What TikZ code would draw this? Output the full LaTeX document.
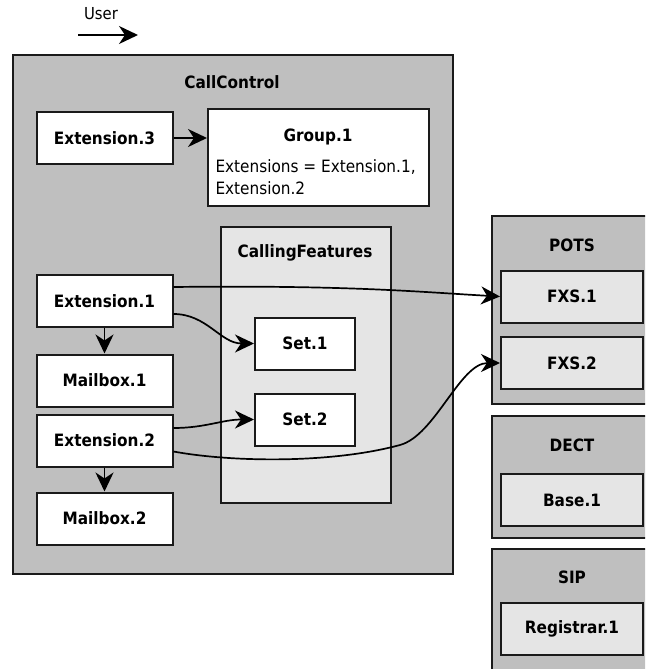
\documentclass[tikz,border=0pt]{standalone}
\usepackage{fontspec}
\setmainfont{DejaVu Sans Condensed}
\usetikzlibrary{arrows.meta}
\definecolor{panelgray}{HTML}{BFBFBF}
\definecolor{lightgray}{HTML}{E5E5E5}
\definecolor{edgegray}{HTML}{1A1A1A}
\begin{document}
\begin{tikzpicture}[x=1pt,y=-1pt,
  panel/.style={draw=edgegray, fill=panelgray, line width=2pt, anchor=north west, inner sep=0pt},
  subpanel/.style={draw=edgegray, fill=lightgray, line width=2pt, anchor=north west, inner sep=0pt},
  title/.style={font=\fontsize{17}{19}\selectfont\bfseries},
  box/.style={draw=edgegray, fill=white, line width=2pt, inner sep=0pt,
    minimum width=136pt, minimum height=52pt, font=\fontsize{17}{19}\selectfont\bfseries},
  lbox/.style={box, fill=lightgray, minimum width=142pt},
  sbox/.style={box, minimum width=100pt},
  arr/.style={-{Stealth[length=19pt,width=18pt,inset=6pt]}, line width=1.9pt, black},
  curve/.style={-{Stealth[length=19pt,width=18pt,inset=6pt]}, line width=1.7pt, black}
]
\useasboundingbox (0,0) rectangle (645,669);
\clip (0,0) rectangle (645,669);

% legend
\node[font=\fontsize{16.5}{18}\selectfont] (user) at (101,14) {User};
\coordinate (ua) at (78,35);
\coordinate (ub) at (138,35);
\draw[arr] (ua) -- (ub);

% main container
\node[panel, minimum width=440pt, minimum height=519pt] (cc) at (12,54) {};
\node[title] (cctitle) at (232,82) {CallControl};

\node[box] (ext3) at (104.5,138) {Extension.3};
\node[draw=edgegray, fill=white, line width=2pt, anchor=north west, inner sep=0pt,
      minimum width=221pt, minimum height=97pt] (group) at (207,108) {};
\node[title] (gtitle) at (318,137) {Group.1};
\node[anchor=west, align=left, font=\fontsize{17}{22}\selectfont] (gbody) at (212,177.5)
  {Extensions = Extension.1,\\Extension.2};

\node[subpanel, minimum width=170pt, minimum height=276pt] (cf) at (220,226) {};
\node[title] (cftitle) at (305,253) {CallingFeatures};
\node[sbox] (set1) at (305,343.5) {Set.1};
\node[sbox] (set2) at (305,419.5) {Set.2};

\node[box] (ext1) at (104.5,301) {Extension.1};
\node[box] (mb1) at (104.5,380.5) {Mailbox.1};
\node[box] (ext2) at (104.5,440.5) {Extension.2};
\node[box] (mb2) at (104.5,518.5) {Mailbox.2};

% hardware side
\node[panel, minimum width=162pt, minimum height=188pt] (pots) at (491,215) {};
\node[title] (potstitle) at (572,245) {POTS};
\node[lbox] (fxs1) at (572,296.5) {FXS.1};
\node[lbox] (fxs2) at (572,363) {FXS.2};

\node[panel, minimum width=162pt, minimum height=122pt] (dect) at (491,415) {};
\node[title] (decttitle) at (572,445) {DECT};
\node[lbox] (base1) at (572,500) {Base.1};

\node[panel, minimum width=162pt, minimum height=140pt] (sip) at (491,548) {};
\node[title] (siptitle) at (572,577) {SIP};
\node[lbox] (reg1) at (572,628.5) {Registrar.1};

% connectors
\draw[arr] (ext3.east) -- (ext3.east -| group.west);
\draw[arr] (ext1.south) -- (mb1.north);
\draw[arr] (ext2.south) -- (mb2.north);

\draw[curve] ([yshift=14pt]ext1.east) .. controls (350,285) and (420,292) .. (fxs1.west);
\draw[curve] ([yshift=-13pt]ext1.east) to[out=0,in=180] (set1.west);
\draw[curve] ([yshift=12.5pt]ext2.east) to[out=0,in=180] (set2.west);
\coordinate (mid) at (400,445);
\draw[curve] ([yshift=-11pt]ext2.east) .. controls (230,462) and (330,464) .. (mid)
  .. controls (435,435.5) and (460,363) .. (fxs2.west);
\end{tikzpicture}
\end{document}
